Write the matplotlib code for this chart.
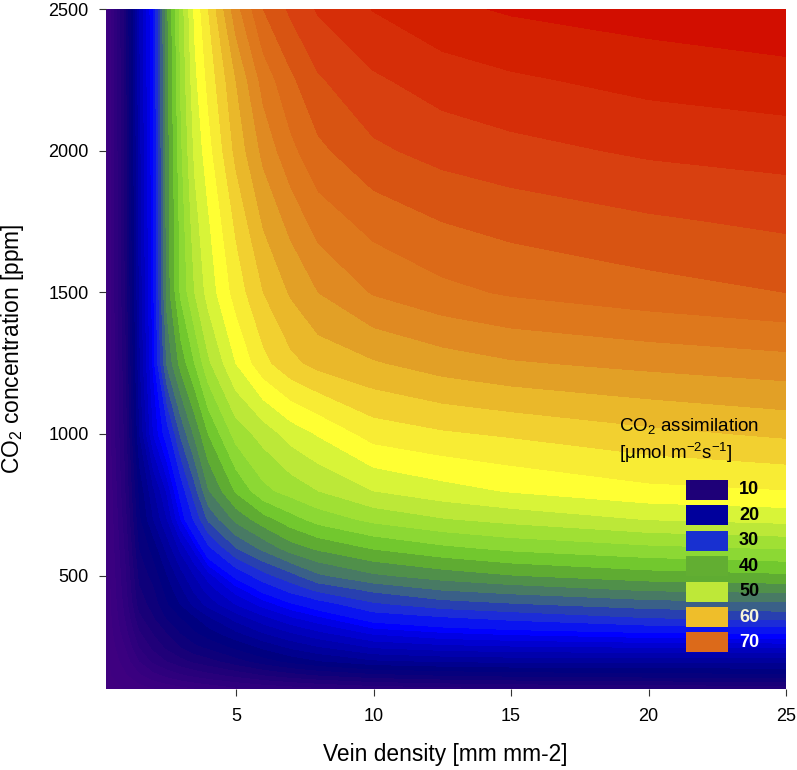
import numpy as np
import matplotlib
matplotlib.use("Agg")
import matplotlib.pyplot as plt
from matplotlib.colors import BoundaryNorm, ListedColormap
from matplotlib.patches import Rectangle

plt.rcParams["font.family"] = "Liberation Sans"
plt.rcParams["mathtext.fontset"] = "custom"
plt.rcParams["mathtext.rm"] = "Liberation Sans"
plt.rcParams["mathtext.default"] = "regular"

vein_density = [0.25, 0.5, 1, 1.5, 2, 2.5, 3, 3.5, 4, 5, 6, 7, 8, 10, 12.5, 15, 20, 25]
co2_ppm = [100, 150, 200, 250, 300, 350, 400, 450, 500, 600, 700, 800, 1000, 1250, 1500, 1750, 2000, 2250, 2500]

# assimilation, one row per co2 value
assimilation = [
    [2.8, 3.2, 3.8, 4.3, 4.8, 5.2, 5.6, 6, 6.3, 7, 7.4, 7.8, 8.2, 8.8, 9.2, 9.5, 9.8, 10],
    [3, 3.8, 4.8, 6, 7, 7.8, 8.5, 9, 9.5, 10.3, 11.2, 11.9, 12.5, 13.3, 13.8, 14.1, 14.4, 14.6],
    [3, 4.2, 5.6, 7.5, 9, 10, 10.8, 11.5, 12, 13.2, 14.4, 15.4, 16.2, 17.3, 17.7, 17.9, 18, 18],
    [3.1, 4.5, 6.3, 8.8, 10.3, 11.5, 12.5, 13.4, 14, 15.3, 16.6, 17.8, 18.7, 20.2, 20.8, 21.1, 21.4, 21.5],
    [3.2, 4.8, 7, 9.8, 11.3, 12.5, 13.8, 14.8, 15.7, 17.3, 18.8, 20, 21, 22.8, 23.7, 24.2, 25, 25.4],
    [3.3, 5, 7.6, 10.8, 12.3, 13.8, 14.9, 16, 17.2, 19.2, 20.8, 22.2, 23.3, 25.8, 27, 28, 29.8, 30.6],
    [3.4, 5.2, 8, 11.8, 13, 14.8, 16.3, 17.9, 19.2, 21.3, 23, 24.7, 26.2, 29.5, 31.3, 32.2, 33.7, 34.4],
    [3.5, 5.3, 8.3, 12.3, 13.5, 15.5, 17.2, 19, 20.5, 23, 25.5, 28.2, 30.5, 33, 35, 36, 37.7, 38.2],
    [3.5, 5.4, 8.5, 12.8, 14.2, 16.2, 18.2, 20, 21.8, 25.5, 29, 31.6, 34.5, 37, 38.6, 39.8, 41.3, 42],
    [3.6, 5.6, 9, 13.8, 15.5, 18, 20.5, 23, 27, 32.5, 35.8, 38.9, 40.6, 42.8, 44.5, 45.7, 47, 47.8],
    [3.7, 5.8, 9.5, 14.7, 17.5, 20, 23.8, 28, 33, 38.2, 41.5, 44, 46, 48.2, 49.8, 50.8, 52.6, 53.3],
    [3.8, 6, 10, 15.3, 18.5, 21.5, 25.8, 31.5, 37.3, 42.8, 46.8, 48.5, 50, 52.5, 54, 55.2, 56.8, 57.4],
    [4, 6.5, 10.5, 17.5, 22.5, 26, 33, 38, 42.5, 48.5, 51, 53.5, 55.2, 58.5, 59.6, 60.3, 61.8, 62.9],
    [4, 6.5, 11, 18.5, 24, 35.5, 41, 45, 49.5, 55, 59.2, 61.8, 63.3, 64.7, 66.2, 67.2, 68.2, 69],
    [4, 6.5, 11.5, 19, 24.5, 38.5, 45.5, 50, 53.5, 58.5, 62.5, 65.3, 67.5, 70.2, 71.8, 72.8, 74, 75],
    [4, 6.5, 11.7, 19.3, 24.6, 38.7, 46, 51.5, 54.7, 60.5, 65.3, 68.3, 71.1, 73.4, 75, 75.9, 77.1, 78],
    [4, 6.5, 11.8, 19.5, 24.7, 38.8, 47, 53, 56.5, 63.2, 68.2, 71.8, 74.4, 77, 78.4, 79.2, 80.4, 81],
    [4, 6.5, 11.9, 19.8, 24.9, 39.2, 47.8, 54.3, 58.2, 65, 71, 74.5, 77.2, 79.6, 81.2, 82.1, 83.3, 84],
    [4, 6.5, 12, 20, 25, 39.5, 48.5, 55.5, 60, 69, 75, 78, 80.3, 82.6, 84.4, 85.3, 86.2, 87],
]

low_levels = [0, 1.25, 2.5, 3.75, 5, 6.25, 7.5, 8.75, 10, 11.25, 12.5, 13.75, 15, 16.25, 17.5, 18.75, 20, 21.25, 22.5, 23.75]
high_levels = [25, 27.5, 30, 32.5, 35, 37.5, 40, 42.5, 45, 47.5, 50, 52.5, 55, 57.5, 60, 62.5, 65, 67.5, 70, 72.5, 75, 77.5, 80, 82.5, 85, 87.5]
low_colors = ["#42007F", "#41007F", "#40007F", "#3E0080", "#3A0080", "#35007F", "#2E007D", "#28007B", "#200079", "#180078",
              "#0E007A", "#06007D", "#000080", "#00008E", "#00009C", "#0000AC", "#0000BC", "#0000D0", "#0000E4", "#0000FF"]
high_colors = ["#0A14F0", "#1C2CD8", "#2840B0", "#3A6088", "#487A64", "#50904A", "#5FAC32",
               "#72C82E", "#8CD834", "#A0E034", "#BCE838", "#D8F438", "#FFFF33",
               "#F8EC34", "#F2D030", "#EAB82A", "#E2A026", "#E08A22", "#DE781C",
               "#DC6A18", "#D85412", "#D84010", "#D62E08", "#D32000", "#D20E00"]

legend_values = [10, 20, 30, 40, 50, 60, 70]
legend_colors = ["#1E0078", "#00009C", "#1830D0", "#62AE32", "#BEE838", "#EFBE2A", "#DC6A1A"]
legend_text_colors = ["black", "black", "black", "black", "black", "#F7F5D8", "white"]

W, H = 797, 770
fig = plt.figure(figsize=(W / 100, H / 100), dpi=100)
ax = fig.add_axes([105.5 / W, (H - 689) / H, 680.5 / W, 680 / H])

band_levels = low_levels + high_levels
cmap = ListedColormap(low_colors + high_colors)
norm = BoundaryNorm(band_levels, cmap.N)
cs = ax.contourf(vein_density, co2_ppm, np.array(assimilation), levels=band_levels, cmap=cmap, norm=norm)
cs.set_edgecolor("face")
cs.set_linewidth(0.3)

ax.set_xlim(0.25, 25)
ax.set_ylim(100, 2500)
ax.set_xticks([5, 10, 15, 20, 25])
ax.set_yticks([500, 1000, 1500, 2000, 2500])
ax.tick_params(length=5, width=0.8, color="#333333", labelsize=13)
ax.tick_params(axis="x", pad=8.5)
ax.tick_params(axis="y", pad=7)
for s in ax.spines.values():
    s.set_visible(False)

fig.text(445 / W, 1 - 755 / H, "Vein density [mm mm-2]", fontsize=16.4, ha="center", va="center")
fig.text(13 / W, 1 - 349 / H, "CO$_2$ concentration [ppm]", fontsize=16.4, rotation=90, ha="center", va="center")

# legend in pixel positions of the figure
fig.text(619 / W, 1 - 426 / H, "CO$_2$ assimilation", fontsize=13.5, va="center")
fig.text(619 / W, 1 - 453 / H, "[\u03bcmol m$^{-2}$s$^{-1}$]", fontsize=13.5, va="center")
for i, v in enumerate(legend_values):
    top = 480 + i * 25.4
    fig.add_artist(Rectangle((686 / W, 1 - (top + 20) / H), 42 / W, 20 / H, transform=fig.transFigure,
                             facecolor=legend_colors[i], edgecolor="none"))
    fig.text(739 / W, 1 - (top + 10) / H, str(v), fontsize=13, fontweight="bold",
             color=legend_text_colors[i], va="center")

plt.savefig("out.png", dpi=100)
